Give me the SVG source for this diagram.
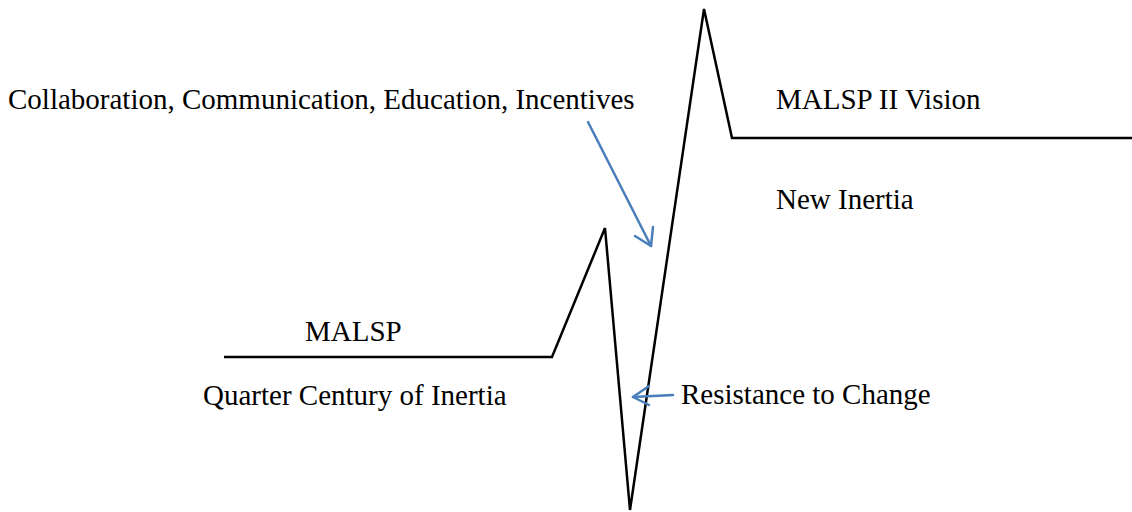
<svg xmlns="http://www.w3.org/2000/svg" width="1132" height="512" viewBox="0 0 1132 512">
<style>
text{font-family:"Liberation Serif","Times New Roman",serif;font-size:29px;fill:#000}
.curve{fill:none;stroke:#000;stroke-width:2.5;stroke-linejoin:miter}
.arr{fill:none;stroke:#4a7ebb;stroke-width:2.5;stroke-linecap:round;stroke-linejoin:round}
</style>
<rect width="1132" height="512" fill="#fff"/>
<g id="connectors">
<polyline class="curve" points="224,357 552,357 605,228 630,510 704,9 732,138 1132,138"/>
<g id="arrow-collab">
<line class="arr" x1="588" y1="122" x2="651" y2="246"/>
<polyline class="arr" points="635,236 651,246 653,227"/>
</g>
<g id="arrow-resistance">
<line class="arr" x1="673" y1="395" x2="633" y2="397"/>
<polyline class="arr" points="649,386 633,397 649,405"/>
</g>
</g>
<g id="label-collab"><text x="8" y="109">Collaboration, Communication, Education, Incentives</text></g>
<g id="label-vision"><text x="776" y="109">MALSP II Vision</text></g>
<g id="label-new-inertia"><text x="776" y="209">New Inertia</text></g>
<g id="label-malsp"><text x="305" y="341">MALSP</text></g>
<g id="label-quarter"><text x="203" y="405">Quarter Century of Inertia</text></g>
<g id="label-resistance"><text x="681" y="404">Resistance to Change</text></g>
</svg>
